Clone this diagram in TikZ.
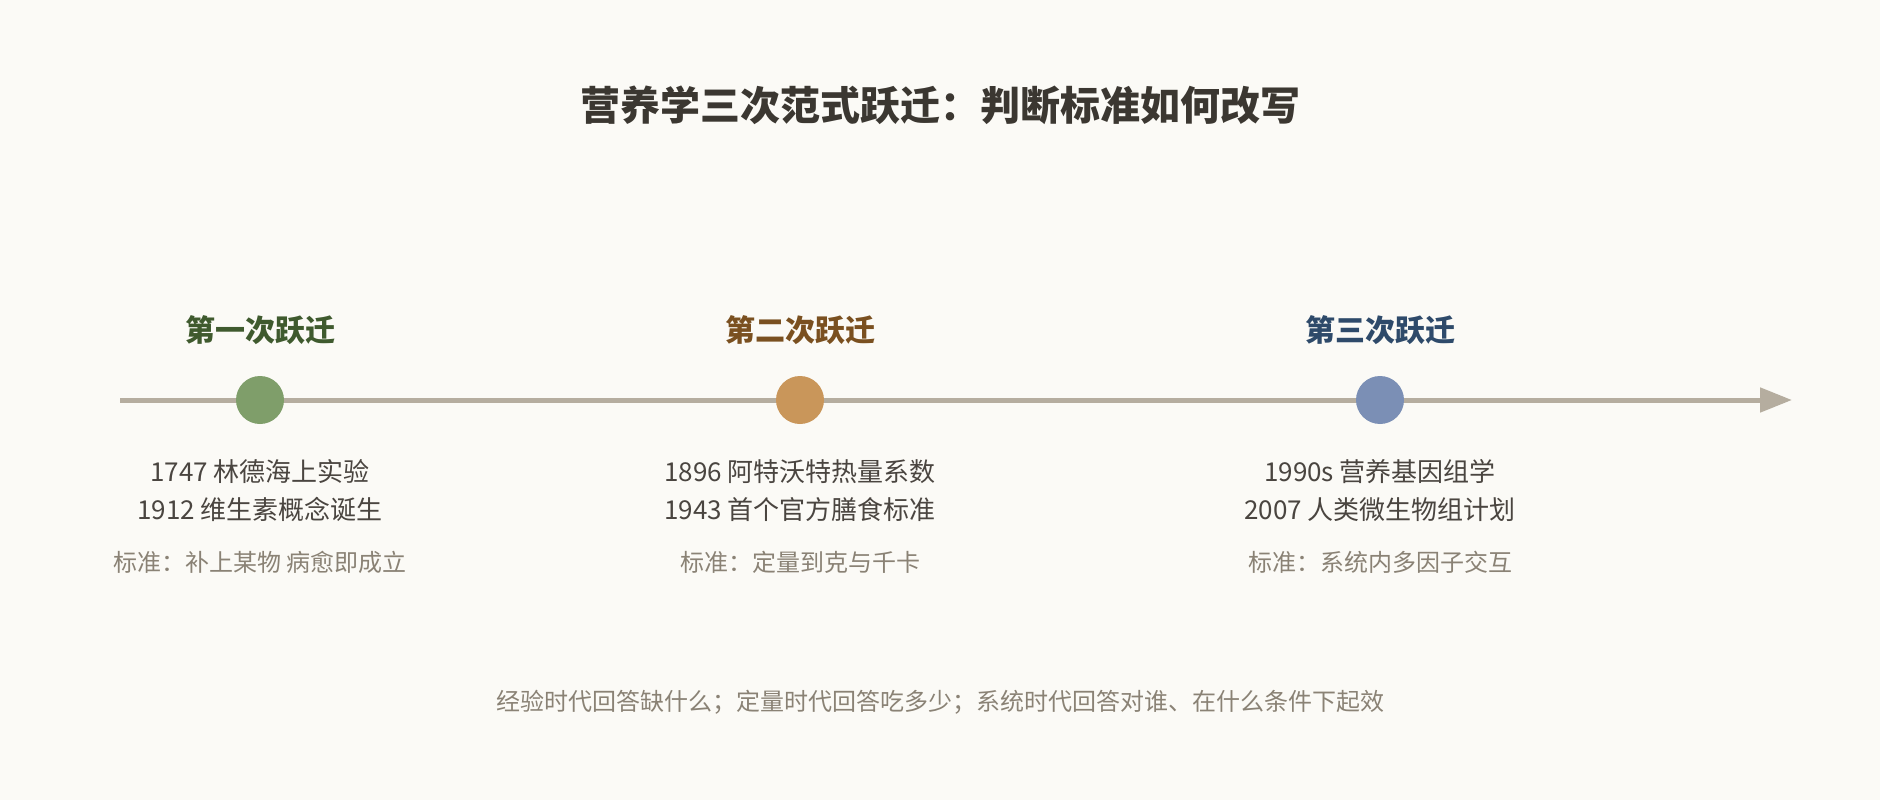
\documentclass[tikz,border=0pt]{standalone}
\usepackage{fontspec}
\setmainfont{Noto Sans CJK SC}
\usetikzlibrary{positioning,calc}
\usetikzlibrary{arrows.meta}

\definecolor{bgpaper}{HTML}{FBFAF6}
\definecolor{axisgray}{HTML}{B5AD9F}
\definecolor{titleink}{HTML}{3B3731}
\definecolor{bodyink}{HTML}{4A4540}
\definecolor{noteink}{HTML}{8A8275}
\definecolor{greenfill}{HTML}{7F9E6A}
\definecolor{greenink}{HTML}{3F5A2E}
\definecolor{ochrefill}{HTML}{C9965A}
\definecolor{ochreink}{HTML}{7A5020}
\definecolor{bluefill}{HTML}{7B8FB5}
\definecolor{blueink}{HTML}{2E4A6A}

\tikzset{
  dot/.style={circle, minimum size=24pt, inner sep=0pt, fill=#1},
  phase/.style={font=\bfseries\fontsize{15}{18}\selectfont, text=#1},
  events/.style={align=center, text=bodyink, font=\fontsize{13}{19}\selectfont},
  rule/.style={text=noteink, font=\fontsize{12}{14}\selectfont},
}

\begin{document}
\begin{tikzpicture}[x=0.5pt,y=0.5pt,on grid]
   \fill[bgpaper] (0,0) rectangle (1880,800);

   \node[font=\bfseries\fontsize{20}{24}\selectfont, text=titleink] (title)
   at (940,695) {营养学三次范式跃迁：判断标准如何改写};

   % time axis
   \coordinate (a0) at (120,400);
   \coordinate (a1) at (1792,400);
   \draw[axisgray, line width=2.5pt, -{Triangle[length=16pt,width=12pt]}]
   (a0) -- (a1);

   % the three shifts
   \node[dot=greenfill]                     (t1) at (260,400) {};
   \node[dot=ochrefill, right=270pt of t1]  (t2) {};
   \node[dot=bluefill,  right=290pt of t2]  (t3) {};

   \node[phase=greenink, above=35pt of t1]  (p1) {第一次跃迁};
   \node[phase=ochreink, above=35pt of t2]  (p2) {第二次跃迁};
   \node[phase=blueink,  above=35pt of t3]  (p3) {第三次跃迁};

   % milestones
   \node[events, below=45.5pt of t1] (y1) {1747 林德海上实验\\1912 维生素概念诞生};
   \node[events, below=45.5pt of t2] (y2) {1896 阿特沃特热量系数\\1943 首个官方膳食标准};
   \node[events, below=45.5pt of t3] (y3) {1990s 营养基因组学\\2007 人类微生物组计划};

   % criteria
   \node[rule, below=81pt of t1] (s1) {标准：补上某物 病愈即成立};
   \node[rule, below=81pt of t2] (s2) {标准：定量到克与千卡};
   \node[rule, below=81pt of t3] (s3) {标准：系统内多因子交互};

   \node[rule] (foot) at (940,98)
   {经验时代回答缺什么；定量时代回答吃多少；系统时代回答对谁、在什么条件下起效};
\end{tikzpicture}
\end{document}
